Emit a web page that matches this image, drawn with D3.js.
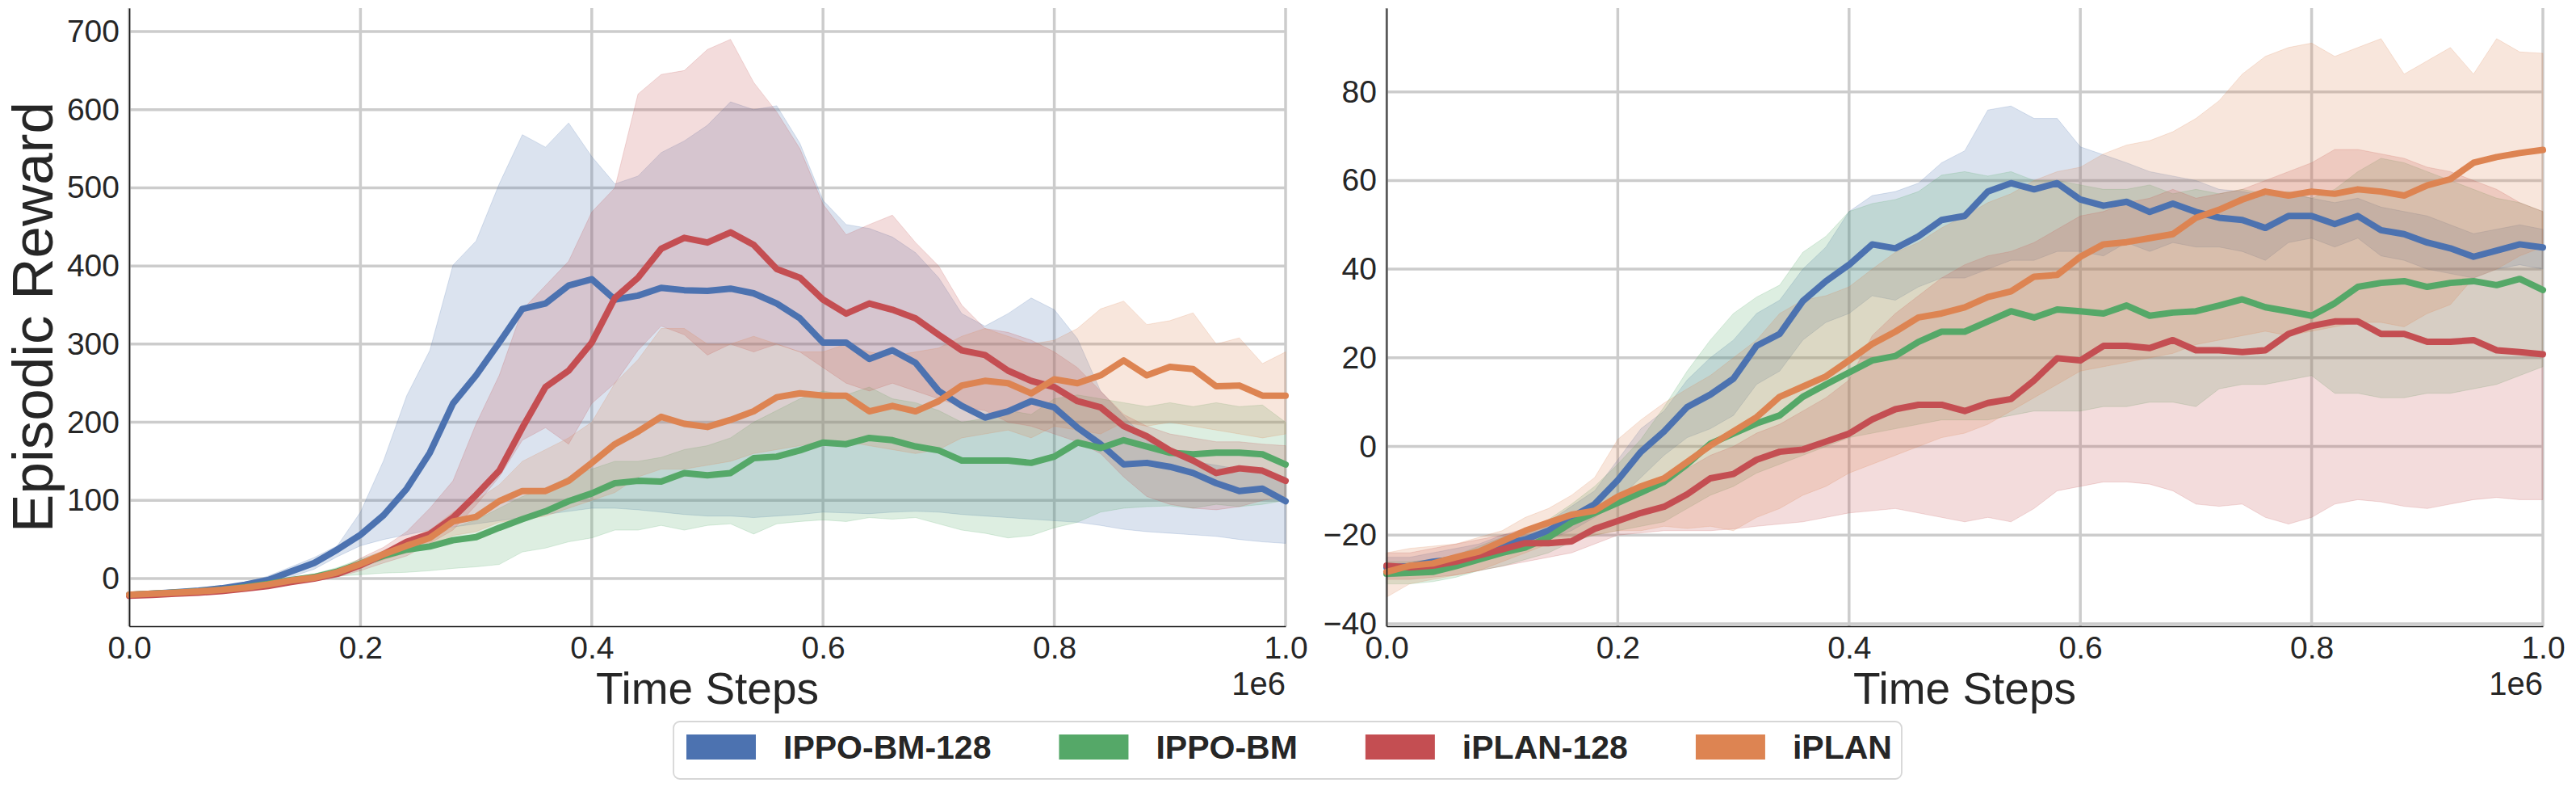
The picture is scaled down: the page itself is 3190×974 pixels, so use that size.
<!DOCTYPE html>
<html><head><meta charset="utf-8">
<script src="https://cdn.jsdelivr.net/npm/d3@7"></script>
<style>
body{margin:0;background:#fff}
text{font-family:"Liberation Sans",Arial,sans-serif;fill:#262626}
</style>
</head><body>
<svg id="chart" width="3190" height="974"></svg>
<script>
// ---------- DATA ----------
const steps = [0,0.02,0.04,0.06,0.08,0.1,0.12,0.14,0.16,0.18,0.2,0.22,0.24,0.26,0.28,0.3,0.32,0.34,0.36,0.38,0.4,0.42,0.44,0.46,0.48,0.5,0.52,0.54,0.56,0.58,0.6,0.62,0.64,0.66,0.68,0.7,0.72,0.74,0.76,0.78,0.8,0.82,0.84,0.86,0.88,0.9,0.92,0.94,0.96,0.98,1.0]; // x 1e6

const seriesNames = ["IPPO-BM-128","IPPO-BM","iPLAN-128","iPLAN"];
const seriesColors = ["#4C72B0","#55A868","#C44E52","#DD8452"];

// Left panel
const L_ippo128 = [-21,-19.5,-17.5,-15.5,-12.5,-8,-2,9,20,37,56, 81,115,161,224,260,302,345,352,375,383, 357,362,372,369,368, 371,365,352,333,302, 302,281,292,276,240, 221,206,214,227,219, 193,172,146,148,143, 135,122,112,115,99];
const L_ippo128_hi = [-19,-18,-16,-14,-10.5,-5,3,15,27,42,85, 151,234,292,401,432,505,568,552,583,540, 505,515,545,560,580, 610,600,605,557,484, 453,448,437,417,385, 339,323,339,359,344, 307,240,208,177,160, 150,145,140,135,130];
const L_ippo128_lo = [-23,-22,-20,-18,-15,-11,-6,2,12,28,42, 50,56,62,66,70,74,78,82,86,90, 90,88,85,82,80, 80,78,80,82,85, 84,83,85,86,85, 82,80,78,76,74, 72,68,63,60,58, 56,54,50,47,45];

const L_ippo = [-21,-19.5,-18,-16.5,-14.5,-11,-7,-2,2,9,19, 29,37,41,49,53,65,76,86,99,109, 122,125,124,135,132, 135,154,156,164,174, 172,180,177,169,164, 151,151,151,148,156, 174,167,177,169,161, 159,161,161,159,146];
const L_ippo_hi = [-19,-18,-16.5,-15,-13,-9,-5,1,6,14,25, 35,48,55,65,75,90,105,115,130,140, 150,150,155,165,170, 180,200,215,230,240, 235,245,230,225,215, 200,205,215,210,230, 235,230,225,220,225, 220,225,220,222,200];
const L_ippo_lo = [-23,-21.5,-20,-18.5,-16.5,-13,-9,-4,-1,3,5, 7,8,10,13,15,18,34,39,47,52, 62,62,68,62,68, 70,57,70,73,75, 73,78,76,78,70, 62,58,52,55,65, 72,85,90,92,93, 90,95,92,95,100];

const L_iplan128 = [-22,-21,-19.5,-18,-16,-13,-9.5,-4.5,0,6,17, 31,47,57,78,107,138,193,245,266,302, 359,385,422,436,430, 443,427,396,385,357, 339,352,344,333,312, 292,286,266,253,245, 227,219,195,182,164, 151,135,141,138,125];
const L_iplan128_hi = [-20,-19,-17.5,-16,-14,-11,-7,-2,3,10,26, 40,60,90,125,198,260,344,375,406,469, 500,620,645,650,677, 690,635,597,550,479, 440,453,465,430,400, 350,320,315,305,290, 270,240,210,195,185, 180,175,175,172,170];
const L_iplan128_lo = [-24,-23,-21.5,-20,-18,-15,-12,-7,-3,2,10, 20,29,45,62,94,130,177,193,172,224, 250,292,323,312,286, 300,290,300,290,270, 250,240,250,240,230, 220,215,200,195,185, 175,160,130,105,95, 90,88,92,100,105];

const L_iplan = [-20.7,-19.3,-18,-16.5,-14.5,-11.7,-7.6,-2.4,1,8,18.6, 31,42,52,73,79,99,112,112,125,148, 172,188,207,198,194, 203,214,232,237,234, 234,214,221,214,227, 247,253,250,237,255, 250,260,279,260,271, 268,246,247,234,234];
const L_iplan_hi = [-19,-18,-16.5,-15,-13,-10,-5.5,0,4,11,23, 36,50,62,85,100,120,150,165,180,200, 250,280,320,320,300, 300,310,300,290,290, 300,290,285,290,295, 310,320,310,300,305, 320,345,355,325,330, 340,300,308,275,290];
const L_iplan_lo = [-22.5,-21,-19.5,-18,-16,-13.5,-10,-5,-2,5,14, 24,33,40,55,60,72,75,80,90,100, 110,130,140,140,145, 150,160,165,170,175, 175,170,165,160,165, 180,185,190,180,195, 190,185,200,195,200, 195,190,185,180,185];

// Right panel
const R_ippo128 = [-27.3,-27,-26,-25.5,-24,-22,-21,-19,-16,-13,-7.6, -1.2,3.4,8.9,11.7,15.3,22.7,25.4,32.8,37.3,41, 45.6,44.7,47.4,51.1,52, 57.5,59.4,58,59.4,55.7, 54.3,55.2,52.9,54.8,52.9, 51.6,51.1,49.3,52,52, 50.2,52,48.8,47.9,46, 44.7,42.8,44.2,45.6,44.9];
const R_ippo128_hi = [-25,-25,-24,-23,-22,-20,-19,-17,-13.5,-10,-3, 4,8,15,20,24,30,33,40,45,53, 56.6,57.5,59.4,64,66.7, 75.9,76.8,74,74,67.6, 65.8,64,62,61,60, 58,57.5,56.6,57,56, 55,56,54,53,52, 50,48,49,50,49];
const R_ippo128_lo = [-29.5,-29,-28,-27.5,-26,-24.5,-23,-21,-19,-16,-12, -7,-2,2,4,7,14,17,24,28,30, 34,33,36,38,38, 40,42,42,44,44, 43,46,44,46,45, 45,44,42,46,47, 45,47,43,42,40, 39,38,40,41,40];

const R_ippo = [-28.7,-28.5,-28.3,-27,-25.5,-24,-22.8,-20.5,-17.2,-15,-12.7, -10.4,-8,-4,0.6,2.9,5.2,7,11.2,14,16.7, 19.4,20.4,23.6,25.9,25.9, 28.2,30.5,29.1,30.9,30.5, 30,31.8,29.5,30.2,30.5, 31.8,33.2,31.4,30.5,29.5, 32.3,36,36.9,37.3,36, 36.9,37.3,36.4,37.8,35.3];
const R_ippo_hi = [-26,-26,-25.5,-24.5,-22.5,-20.5,-19,-16.5,-13,-9,-4, 1.6,8.9,17,24,30,33.7,36.4,43.8,47.4,53, 54.8,55.7,57.5,61.2,62, 61,62,60,60,59, 58,58,59,57,58, 57,58,57,57.5,56, 58,62,65,64,62, 60,58,56,55,53];
const R_ippo_lo = [-31,-31,-30.5,-29.5,-28,-27,-25.5,-24,-21.5,-20,-19, -18,-17,-14,-11,-9,-6,-4,-2,0,2, 3,4,5,6,6, 6,7,8,8,8, 9,9,10,10,9, 13,14,14,15,16, 12,12,11,11,12, 12,13,14,16,18];

const R_iplan128 = [-26.9,-27.3,-26.9,-26,-24.6,-23.2,-21.8,-21.8,-21.4,-18.6,-16.8, -15,-13.6,-10.8,-7.2,-6.2,-3,-1.2,-0.7,1.1,2.9, 6.1,8.4,9.4,9.4,8, 9.8,10.7,14.9,19.9,19.4, 22.7,22.7,22.2,24,21.7, 21.7,21.3,21.7,25.4,27.2, 28.2,28.2,25.4,25.4,23.6, 23.6,24,21.7,21.3,20.8];
const R_iplan128_hi = [-24,-24,-23,-22,-21,-20,-18.5,-18,-17,-14,-12, -10,-8,-5,-2,0,3,5,8,11,15, 25,30,34,38,41, 43,44,46,49,52, 53,55,56,58,56, 57,58,60,62,64, 67,67,66,65,63, 62,60,58,55,53];
const R_iplan128_lo = [-30,-30,-29.5,-29,-28,-27,-26,-25,-24,-22,-20, -19.5,-19,-19,-19,-18.6,-18,-17.5,-17,-16,-15, -14.5,-14,-15,-16,-17, -16,-17,-14,-10,-9, -8,-8,-8.5,-10,-13, -13.5,-13,-16,-17.5,-16, -13,-12,-12.5,-13.5,-14, -13,-12,-11.5,-12,-12];

const R_iplan = [-28.3,-26.9,-26.4,-25,-23.7,-21.4,-19,-17.2,-15.4,-14.5,-11.3, -9,-7.2,-3.5,0.2,3.4,6.6,11.2,13.5,15.8,19.4, 23.1,25.9,29.1,30,31.4, 33.7,35,38.3,38.7,42.8, 45.6,46.1,47,47.9,51.6, 53.4,55.7,57.5,56.6,57.5, 57,58,57.5,56.6,58.9, 60.3,64,65.3,66.2,66.9];
const R_iplan_hi = [-24,-23,-22.5,-22,-20.5,-19,-16,-14,-11,-7,1.6, 6,9.8,13,16,20,24,30,33,34,36, 40,43.8,46,49.3,52, 55,57,60,62,63, 66,68,69,71,74, 78,84,88,90,91, 88,90,92,84,87, 90,84,92,89,88.7];
const R_iplan_lo = [-34,-31,-30,-29,-28,-26,-24,-22,-21,-20,-19, -19,-18,-18.5,-18,-19,-16,-14,-11,-9,-6, -4,-2,0,2,3, 5,8,11,14,17, 18,19,20,21,23, 24,25,26,25,26, 27,28,28,27,30, 32,38,40,43,45];

const leftTicksY = [0,100,200,300,400,500,600,700];
const rightTicksY = [-40,-20,0,20,40,60,80];
const ticksX = [0,0.2,0.4,0.6,0.8,1.0];

// ---------- DRAW ----------
const svg = d3.select("#chart");
svg.append("rect").attr("width",3190).attr("height",974).attr("fill","#fff");

const panels = [
  {x0:160, x1:1592, yDom:[-61,730], yTicks:leftTicksY, ylabel:"Episodic Reward",
   series:[[L_ippo128,L_ippo128_lo,L_ippo128_hi],[L_ippo,L_ippo_lo,L_ippo_hi],[L_iplan128,L_iplan128_lo,L_iplan128_hi],[L_iplan,L_iplan_lo,L_iplan_hi]]},
  {x0:1717, x1:3149, yDom:[-40.55,98.9], yTicks:rightTicksY, ylabel:null,
   series:[[R_ippo128,R_ippo128_lo,R_ippo128_hi],[R_ippo,R_ippo_lo,R_ippo_hi],[R_iplan128,R_iplan128_lo,R_iplan128_hi],[R_iplan,R_iplan_lo,R_iplan_hi]]}
];
const yTop = 10, yBot = 775;

panels.forEach(p => {
  const x = d3.scaleLinear().domain([0,1]).range([p.x0,p.x1]);
  const y = d3.scaleLinear().domain(p.yDom).range([yBot,yTop]);
  const g = svg.append("g");
  // grid
  g.selectAll(".gx").data(ticksX).join("line")
    .attr("x1",d=>x(d)).attr("x2",d=>x(d)).attr("y1",yTop).attr("y2",yBot)
    .attr("stroke","#cccccc").attr("stroke-width",3.5);
  g.selectAll(".gy").data(p.yTicks).join("line")
    .attr("x1",p.x0).attr("x2",p.x1).attr("y1",d=>y(d)).attr("y2",d=>y(d))
    .attr("stroke","#cccccc").attr("stroke-width",3.5);
  // bands
  p.series.forEach((s,i) => {
    const pts = steps.map((t,k)=>({t, lo:s[1][k], hi:s[2][k]}));
    const area = d3.area().x(d=>x(d.t)).y0(d=>y(d.lo)).y1(d=>y(d.hi));
    g.append("path").attr("d",area(pts))
      .attr("fill",seriesColors[i]).attr("fill-opacity",0.2)
      .attr("stroke",seriesColors[i]).attr("stroke-opacity",0.2).attr("stroke-width",1);
  });
  // mean lines
  p.series.forEach((s,i) => {
    const pts = steps.map((t,k)=>({t, v:s[0][k]}));
    const line = d3.line().x(d=>x(d.t)).y(d=>y(d.v));
    g.append("path").attr("d",line(pts)).attr("fill","none")
      .attr("stroke",seriesColors[i]).attr("stroke-width",8)
      .attr("stroke-linejoin","round").attr("stroke-linecap","round");
  });
  // axes
  const ax = g.append("g").attr("transform",`translate(0,${yBot})`)
    .call(d3.axisBottom(x).tickValues(ticksX).tickFormat(d3.format(".1f")).tickSize(0).tickPadding(12).tickSizeOuter(0));
  const ay = g.append("g").attr("transform",`translate(${p.x0},0)`)
    .call(d3.axisLeft(y).tickValues(p.yTicks).tickFormat(d3.format("d")).tickSize(0).tickPadding(12).tickSizeOuter(0));
  [ax,ay].forEach(a=>{
    a.selectAll("text").style("font-size","39px").attr("fill","#262626");
    a.select(".domain").attr("stroke","#1a1a1a").attr("stroke-width",1.6);
  });
  // x label
  g.append("text").attr("x",(p.x0+p.x1)/2).attr("y",871).attr("text-anchor","middle")
    .style("font-size","55px").text("Time Steps");
  g.append("text").attr("x",p.x1).attr("y",860).attr("text-anchor","end")
    .style("font-size","40px").text("1e6");
  if (p.ylabel) {
    g.append("text").attr("transform",`translate(65,${(yTop+yBot)/2}) rotate(-90)`)
      .attr("text-anchor","middle").style("font-size","71px").text(p.ylabel);
  }
});

// legend
const leg = svg.append("g");
leg.append("rect").attr("x",834).attr("y",893).attr("width",1521).attr("height",71)
  .attr("rx",8).attr("fill","#fff").attr("stroke","#d6d6d6").attr("stroke-width",1.8);
let lx = 850;
seriesNames.forEach((n,i)=>{
  leg.append("rect").attr("x",lx).attr("y",909).attr("width",86).attr("height",31).attr("fill",seriesColors[i]);
  const t = leg.append("text").attr("x",lx+120).attr("y",939).style("font-size","41px").style("font-weight","bold").text(n);
  const w = t.node().getComputedTextLength();
  lx = lx + 120 + w + 84;
});
</script>
</body></html>
